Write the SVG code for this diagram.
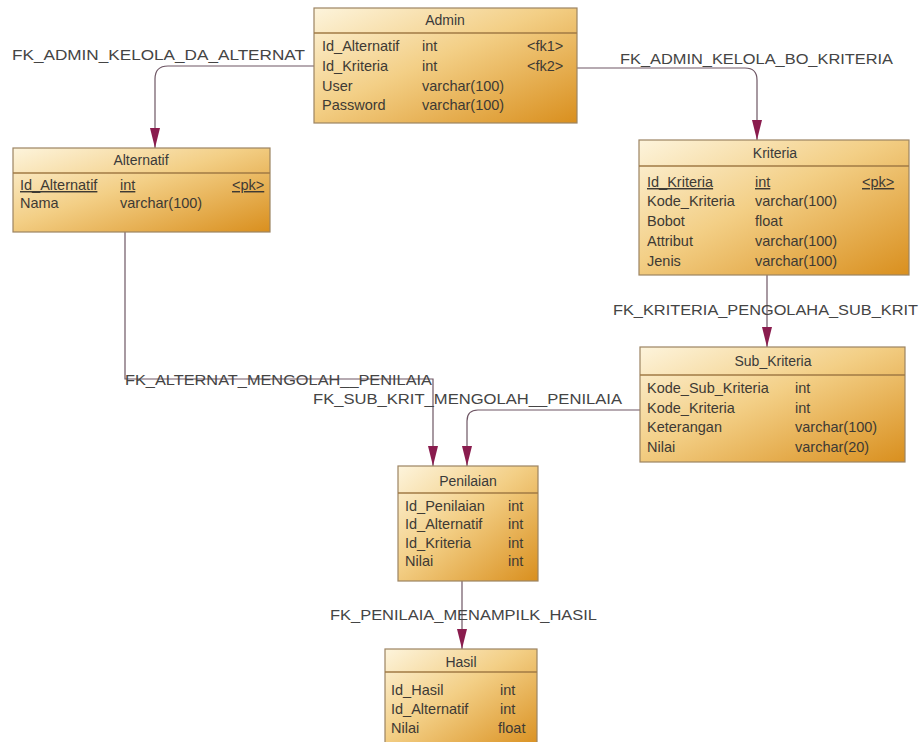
<svg xmlns="http://www.w3.org/2000/svg" width="923" height="742" viewBox="0 0 923 742">
  <defs>
    <linearGradient id="tableFill" x1="0" y1="0" x2="1" y2="1">
      <stop offset="0" stop-color="#fdf4dc"/>
      <stop offset="0.45" stop-color="#f3cf86"/>
      <stop offset="1" stop-color="#d98f1e"/>
    </linearGradient>
    <!-- filled foreign-key arrowhead, tip at the end of the path -->
    <marker id="arrow" markerUnits="userSpaceOnUse" markerWidth="20" markerHeight="12" viewBox="0 0 20 12" refX="20" refY="6" orient="auto">
      <path d="M0,1 L20,6 L0,11 Z" fill="#8a1c4e"/>
    </marker>
    <style>
      .box { fill: url(#tableFill); stroke: #9c8462; stroke-width: 1.2; }
      .sep { stroke: #a07a44; stroke-width: 1.6; }
      .title { font-family: "Liberation Sans", Arial, sans-serif; font-size: 14px; fill: #3a3a3a; text-anchor: middle; }
      .col { font-family: "Liberation Sans", Arial, sans-serif; font-size: 14.5px; fill: #3e3a34; }
      .key { text-decoration: underline; }
      .lbl { font-family: "Liberation Sans", Arial, sans-serif; font-size: 15px; fill: #444444; }
      .fk { fill: none; stroke: #6e5664; stroke-width: 1.2; }
      .fk-end { marker-end: url(#arrow); }
    </style>
  </defs>

  <rect width="923" height="742" fill="#ffffff"/>

  <!-- relationships -->
  <g id="connectors">
    <path class="fk fk-end" d="M314,66 H168 Q155,66 155,79 V148"/>
    <path class="fk fk-end" d="M577,68 H745 Q757,68 757,80 V140"/>
    <path class="fk fk-end" d="M767,275 V347"/>
    <path class="fk fk-end" d="M125,232 V379 H433 V466"/>
    <path class="fk fk-end" d="M640,410 H478 Q467,410 467,421 V466"/>
    <path class="fk fk-end" d="M462,581 V649"/>
    <text class="lbl" x="12" y="60" textLength="293" lengthAdjust="spacingAndGlyphs">FK_ADMIN_KELOLA_DA_ALTERNAT</text>
    <text class="lbl" x="620" y="64" textLength="273" lengthAdjust="spacingAndGlyphs">FK_ADMIN_KELOLA_BO_KRITERIA</text>
    <text class="lbl" x="613" y="315" textLength="305" lengthAdjust="spacingAndGlyphs">FK_KRITERIA_PENGOLAHA_SUB_KRIT</text>
    <text class="lbl" x="125" y="385" textLength="307" lengthAdjust="spacingAndGlyphs">FK_ALTERNAT_MENGOLAH__PENILAIA</text>
    <text class="lbl" x="313" y="404" textLength="309" lengthAdjust="spacingAndGlyphs">FK_SUB_KRIT_MENGOLAH__PENILAIA</text>
    <text class="lbl" x="330" y="620" textLength="267" lengthAdjust="spacingAndGlyphs">FK_PENILAIA_MENAMPILK_HASIL</text>
  </g>

  <!-- Admin -->
  <g id="admin">
    <rect class="box" x="314" y="8" width="263" height="115"/>
    <line class="sep" x1="314" y1="33" x2="577" y2="33"/>
    <text class="title" x="445" y="25">Admin</text>
    <text class="col" x="322" y="51">Id_Alternatif</text>
    <text class="col" x="422" y="51">int</text>
    <text class="col" x="527" y="51">&lt;fk1&gt;</text>
    <text class="col" x="322" y="71">Id_Kriteria</text>
    <text class="col" x="422" y="71">int</text>
    <text class="col" x="527" y="71">&lt;fk2&gt;</text>
    <text class="col" x="322" y="91">User</text>
    <text class="col" x="422" y="91">varchar(100)</text>
    <text class="col" x="322" y="110">Password</text>
    <text class="col" x="422" y="110">varchar(100)</text>
  </g>

  <!-- Alternatif -->
  <g id="alternatif">
    <rect class="box" x="13" y="148" width="257" height="84"/>
    <line class="sep" x1="13" y1="173" x2="270" y2="173"/>
    <text class="title" x="141" y="165">Alternatif</text>
    <text class="col key" x="20" y="190">Id_Alternatif</text>
    <text class="col key" x="120" y="190">int</text>
    <text class="col key" x="232" y="190">&lt;pk&gt;</text>
    <text class="col" x="20" y="208">Nama</text>
    <text class="col" x="120" y="208">varchar(100)</text>
  </g>

  <!-- Kriteria -->
  <g id="kriteria">
    <rect class="box" x="639" y="140" width="270" height="135"/>
    <line class="sep" x1="639" y1="166" x2="909" y2="166"/>
    <text class="title" x="775" y="158">Kriteria</text>
    <text class="col key" x="647" y="187">Id_Kriteria</text>
    <text class="col key" x="755" y="187">int</text>
    <text class="col key" x="862" y="187">&lt;pk&gt;</text>
    <text class="col" x="647" y="206">Kode_Kriteria</text>
    <text class="col" x="755" y="206">varchar(100)</text>
    <text class="col" x="647" y="226">Bobot</text>
    <text class="col" x="755" y="226">float</text>
    <text class="col" x="647" y="246">Attribut</text>
    <text class="col" x="755" y="246">varchar(100)</text>
    <text class="col" x="647" y="266">Jenis</text>
    <text class="col" x="755" y="266">varchar(100)</text>
  </g>

  <!-- Sub_Kriteria -->
  <g id="sub_kriteria">
    <rect class="box" x="640" y="347" width="265" height="115"/>
    <line class="sep" x1="640" y1="375" x2="905" y2="375"/>
    <text class="title" x="773" y="366">Sub_Kriteria</text>
    <text class="col" x="647" y="393">Kode_Sub_Kriteria</text>
    <text class="col" x="795" y="393">int</text>
    <text class="col" x="647" y="413">Kode_Kriteria</text>
    <text class="col" x="795" y="413">int</text>
    <text class="col" x="647" y="432">Keterangan</text>
    <text class="col" x="795" y="432">varchar(100)</text>
    <text class="col" x="647" y="452">Nilai</text>
    <text class="col" x="795" y="452">varchar(20)</text>
  </g>

  <!-- Penilaian -->
  <g id="penilaian">
    <rect class="box" x="398" y="466" width="140" height="115"/>
    <line class="sep" x1="398" y1="493" x2="538" y2="493"/>
    <text class="title" x="468" y="486">Penilaian</text>
    <text class="col" x="405" y="511">Id_Penilaian</text>
    <text class="col" x="508" y="511">int</text>
    <text class="col" x="405" y="529">Id_Alternatif</text>
    <text class="col" x="508" y="529">int</text>
    <text class="col" x="405" y="548">Id_Kriteria</text>
    <text class="col" x="508" y="548">int</text>
    <text class="col" x="405" y="566">Nilai</text>
    <text class="col" x="508" y="566">int</text>
  </g>

  <!-- Hasil -->
  <g id="hasil">
    <rect class="box" x="385" y="649" width="152" height="100"/>
    <line class="sep" x1="385" y1="672" x2="537" y2="672"/>
    <text class="title" x="461" y="667">Hasil</text>
    <text class="col" x="391" y="695">Id_Hasil</text>
    <text class="col" x="500" y="695">int</text>
    <text class="col" x="391" y="714">Id_Alternatif</text>
    <text class="col" x="500" y="714">int</text>
    <text class="col" x="391" y="733">Nilai</text>
    <text class="col" x="498" y="733">float</text>
  </g>
</svg>
